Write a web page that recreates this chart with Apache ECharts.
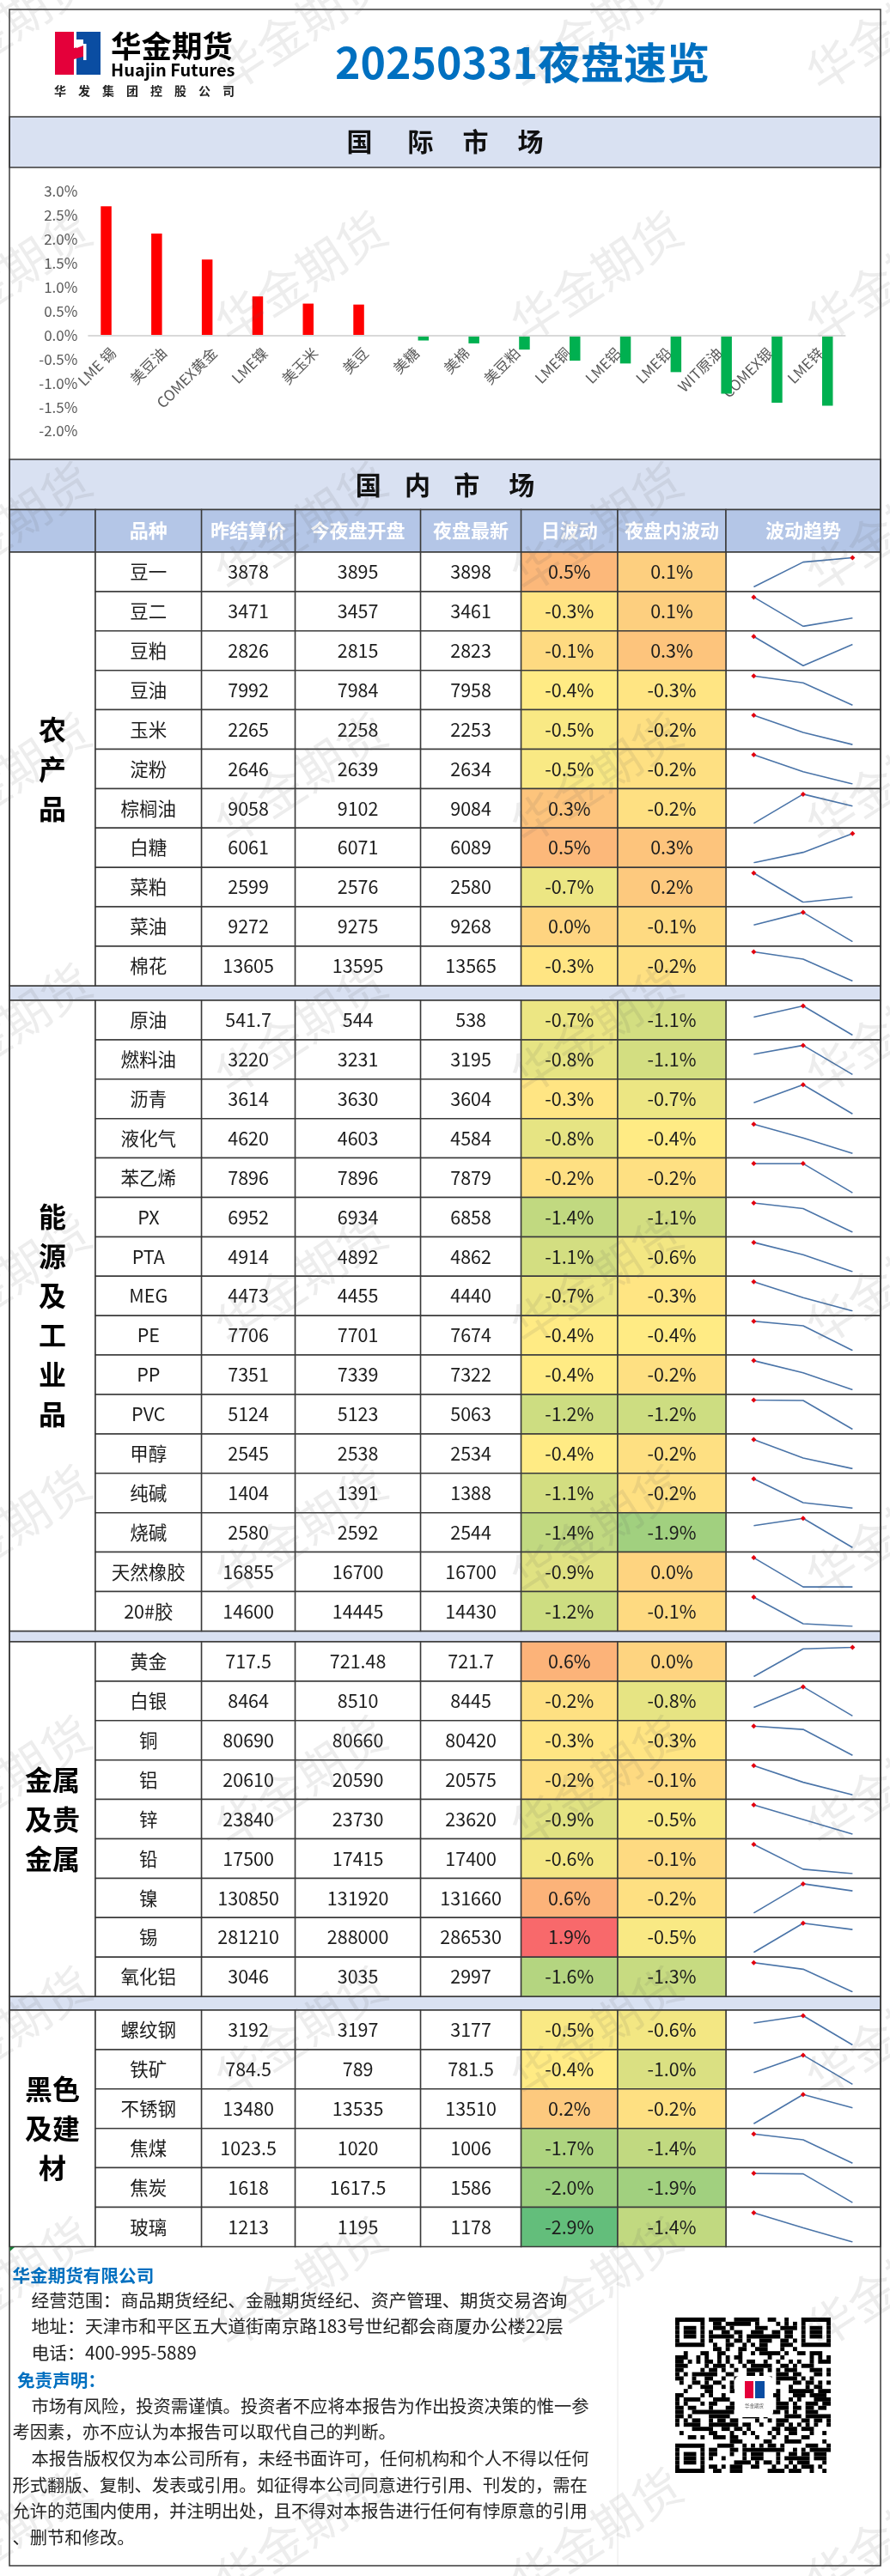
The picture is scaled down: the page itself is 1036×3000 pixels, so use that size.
<!DOCTYPE html>
<html>
<head>
<meta charset="utf-8">
<title>20250331夜盘速览</title>
<script src="https://cdn.jsdelivr.net/npm/echarts@6/dist/echarts.min.js"></script>
<style>
html, body { margin: 0; padding: 0; background: #fff; }
#main { width: 1036px; height: 3000px; }
</style>
</head>
<body>
<div id="main"></div>
<script>
// 国际市场
var intlNames = ['LME 锡', '美豆油', 'COMEX黄金', 'LME镍', '美玉米', '美豆', '美糖', '美棉', '美豆粕', 'LME铜', 'LME铝', 'LME铅', 'WIT原油', 'COMEX银', 'LME锌'];
var intlUp = [2.69, 2.12, 1.58, 0.81, 0.66, 0.64, null, null, null, null, null, null, null, null, null];
var intlDown = [null, null, null, null, null, null, -0.11, -0.17, -0.30, -0.53, -0.59, -0.77, -1.22, -1.41, -1.47];

// 国内市场
var sectionNames = ['农\n产\n品', '能\n源\n及\n工\n业\n品', '金属\n及贵\n金属', '黑色\n及建\n材'];
var sectionSizes = [11, 16, 9, 6];
var varieties = ['豆一', '豆二', '豆粕', '豆油', '玉米', '淀粉', '棕榈油', '白糖', '菜粕', '菜油', '棉花',
  '原油', '燃料油', '沥青', '液化气', '苯乙烯', 'PX', 'PTA', 'MEG', 'PE', 'PP', 'PVC', '甲醇', '纯碱', '烧碱', '天然橡胶', '20#胶',
  '黄金', '白银', '铜', '铝', '锌', '铅', '镍', '锡', '氧化铝',
  '螺纹钢', '铁矿', '不锈钢', '焦煤', '焦炭', '玻璃'];
var prevSettle = [3878, 3471, 2826, 7992, 2265, 2646, 9058, 6061, 2599, 9272, 13605,
  541.7, 3220, 3614, 4620, 7896, 6952, 4914, 4473, 7706, 7351, 5124, 2545, 1404, 2580, 16855, 14600,
  717.5, 8464, 80690, 20610, 23840, 17500, 130850, 281210, 3046,
  3192, 784.5, 13480, 1023.5, 1618, 1213];
var nightOpen = [3895, 3457, 2815, 7984, 2258, 2639, 9102, 6071, 2576, 9275, 13595,
  544, 3231, 3630, 4603, 7896, 6934, 4892, 4455, 7701, 7339, 5123, 2538, 1391, 2592, 16700, 14445,
  721.48, 8510, 80660, 20590, 23730, 17415, 131920, 288000, 3035,
  3197, 789, 13535, 1020, 1617.5, 1195];
var nightLast = [3898, 3461, 2823, 7958, 2253, 2634, 9084, 6089, 2580, 9268, 13565,
  538, 3195, 3604, 4584, 7879, 6858, 4862, 4440, 7674, 7322, 5063, 2534, 1388, 2544, 16700, 14430,
  721.7, 8445, 80420, 20575, 23620, 17400, 131660, 286530, 2997,
  3177, 781.5, 13510, 1006, 1586, 1178];
var dayChange = [0.5, -0.3, -0.1, -0.4, -0.5, -0.5, 0.3, 0.5, -0.7, 0.0, -0.3,
  -0.7, -0.8, -0.3, -0.8, -0.2, -1.4, -1.1, -0.7, -0.4, -0.4, -1.2, -0.4, -1.1, -1.4, -0.9, -1.2,
  0.6, -0.2, -0.3, -0.2, -0.9, -0.6, 0.6, 1.9, -1.6,
  -0.5, -0.4, 0.2, -1.7, -2.0, -2.9];
var nightChange = [0.1, 0.1, 0.3, -0.3, -0.2, -0.2, -0.2, 0.3, 0.2, -0.1, -0.2,
  -1.1, -1.1, -0.7, -0.4, -0.2, -1.1, -0.6, -0.3, -0.4, -0.2, -1.2, -0.2, -0.2, -1.9, 0.0, -0.1,
  0.0, -0.8, -0.3, -0.1, -0.5, -0.1, -0.2, -0.5, -1.3,
  -0.6, -1.0, -0.2, -1.4, -1.9, -1.4];
var columnTitles = ['品种', '昨结算价', '今夜盘开盘', '夜盘最新', '日波动', '夜盘内波动', '波动趋势'];
var trendSteps = ['昨结算', '开盘', '最新'];

var footerLines = [
  '经营范围：商品期货经纪、金融期货经纪、资产管理、期货交易咨询',
  '地址：天津市和平区五大道街南京路183号世纪都会商厦办公楼22层',
  '电话：400-995-5889'
];
var disclaimerLines = [
  '市场有风险，投资需谨慎。投资者不应将本报告为作出投资决策的惟一参',
  '考因素，亦不应认为本报告可以取代自己的判断。',
  '本报告版权仅为本公司所有，未经书面许可，任何机构和个人不得以任何',
  '形式翻版、复制、发表或引用。如征得本公司同意进行引用、刊发的，需在',
  '允许的范围内使用，并注明出处，且不得对本报告进行任何有悖原意的引用',
  '、删节和修改。'
];

var FONT = '"Noto Sans CJK SC", "Noto Sans", sans-serif';
var LINE = '#3a3a3a';
var BAND = '#D9E1F2';
var HEAD = '#B4C6E7';
var BLUE = '#0070C0';
var ROW_H = 45.9;
var LEFT = 11, RIGHT = 1025;
// 表格列的分界
var colEdges = [111, 234.6, 343.6, 489.6, 606.6, 719, 845, 1025];
var sectionTops = [643, 1165, 1912, 2341];

var graphics = [];

function addRect(x, y, w, h, fill, stroke, z) {
  graphics.push({
    type: 'rect', z: z || 1, silent: true,
    shape: { x: x, y: y, width: w, height: h },
    style: { fill: fill, stroke: stroke || null, lineWidth: stroke ? 1.5 : 0 }
  });
}

function addText(text, x, y, size, color, bold, align, lineHeight) {
  graphics.push({
    type: 'text', z: 20, silent: true,
    style: {
      text: text, x: x, y: y, fill: color,
      font: (bold ? 'bold ' : '') + size + 'px ' + FONT,
      fontSize: size, fontFamily: FONT, fontWeight: bold ? 'bold' : 'normal',
      lineHeight: lineHeight,
      align: align || 'center', verticalAlign: 'middle',
      textAlign: align || 'center', textVerticalAlign: 'middle'
    }
  });
}

// 标题区、色带
addRect(LEFT, 136, RIGHT - LEFT, 59, BAND, LINE);
addRect(LEFT, 535, RIGHT - LEFT, 58.5, BAND, LINE);
addRect(LEFT, 1148, RIGHT - LEFT, 17, BAND, LINE);
addRect(LEFT, 1899.4, RIGHT - LEFT, 12.6, BAND, LINE);
addRect(LEFT, 2325.1, RIGHT - LEFT, 15.9, BAND, LINE);
addRect(LEFT, 11, RIGHT - LEFT, 2977, null, LINE, 30);
addText('国      际     市     场', 518, 165, 30, '#111', true);
addText('国    内    市     场', 518, 564.5, 30, '#111', true);
addText('20250331夜盘速览', 608, 73, 50, BLUE, true);

// logo
addRect(64, 37, 22, 50, '#E4003A');
addRect(89, 37, 28, 50, '#0A4DA2');
graphics.push({ type: 'polygon', z: 2, silent: true, shape: { points: [[86, 56], [97, 53], [97, 66], [86, 69]] }, style: { fill: '#E4003A' } });
graphics.push({ type: 'polygon', z: 2, silent: true, shape: { points: [[89, 46], [97, 46], [97, 53], [89, 56]] }, style: { fill: '#fff' } });
addRect(97, 51, 3.5, 19, '#fff', null, 3);
addText('华金期货', 129, 54, 35.5, '#000', true, 'left');
addText('Huajin Futures', 129, 81, 20, '#000', true, 'left');
addText('华　发　集　团　控　股　公　司', 63, 106, 14, '#222', true, 'left');

// 表头
addRect(LEFT, 593.5, colEdges[0] - LEFT, 49.5, HEAD, LINE);
columnTitles.forEach(function (title, i) {
  addRect(colEdges[i], 593.5, colEdges[i + 1] - colEdges[i], 49.5, HEAD, LINE);
  addText(title, (colEdges[i] + colEdges[i + 1]) / 2, 618, 22, '#fff', true);
});

// 左侧合并单元格
sectionNames.forEach(function (name, i) {
  var h = sectionSizes[i] * ROW_H;
  addRect(LEFT, sectionTops[i], colEdges[0] - LEFT, h, '#fff', LINE);
  addText(name, (LEFT + colEdges[0]) / 2, sectionTops[i] + h / 2, 32, '#000', true, 'center', 46);
});

// 底部
graphics.push({ type: 'line', z: 1, silent: true, shape: { x1: 719, y1: 2617, x2: 719, y2: 2988 }, style: { stroke: '#e8e8e8', lineWidth: 1 } });
graphics.push({ type: 'polygon', z: 31, silent: true, shape: { points: [[11.5, 2617], [17, 2617], [11.5, 2622]] }, style: { fill: '#1a7f37' } });
addText('华金期货有限公司', 14.5, 2650, 20.6, BLUE, true, 'left');
footerLines.forEach(function (t, i) { addText(t, 36.5, 2679 + i * 30.5, 20.8, '#222', false, 'left'); });
addText('免责声明：', 20, 2772, 20.6, BLUE, true, 'left');
disclaimerLines.forEach(function (t, i) {
  var indent = i === 0 || i === 2;
  addText(t, indent ? 36.5 : 14.5, 2802 + i * 30.6, 20.3, '#222', false, 'left');
});

// 二维码图案，只是装饰
(function () {
  var n = 37, size = 181 / n, x0 = 786, y0 = 2699, seed = 0x5A17;
  function finder(r, c, ox, oy) {
    var a = r - ox, b = c - oy;
    if (a < -1 || a > 7 || b < -1 || b > 7) return null;
    if (a < 0 || a > 6 || b < 0 || b > 6) return false;
    if (a === 0 || a === 6 || b === 0 || b === 6) return true;
    return a >= 2 && a <= 4 && b >= 2 && b <= 4;
  }
  for (var r = 0; r < n; r++) {
    var start = -1;
    for (var c = 0; c <= n; c++) {
      var on = false;
      if (c < n) {
        seed = ((seed >> 1) ^ (-(seed & 1) & 0xB400)) & 0xFFFF;
        var f = finder(r, c, 0, 0);
        if (f === null) f = finder(r, c, 0, n - 7);
        if (f === null) f = finder(r, c, n - 7, 0);
        on = f === null ? (seed & 3) < 2 : f;
      }
      if (on && start < 0) start = c;
      if (!on && start >= 0) {
        addRect(x0 + start * size, y0 + r * size, (c - start) * size, size, '#000', null, 4);
        start = -1;
      }
    }
  }
  graphics.push({ type: 'rect', z: 5, silent: true, shape: { x: 855, y: 2767, width: 45, height: 48, r: 6 }, style: { fill: '#fff' } });
  addRect(867, 2773, 10, 20, '#E4003A', null, 6);
  addRect(879, 2773, 11, 20, '#0A4DA2', null, 6);
  addText('华金期货', 878, 2802, 5.5, '#555', false);
})();

// 水印
[6, 350, 694, 1038].forEach(function (x) {
  for (var k = 0; k < 11; k++) {
    graphics.push({
      type: 'text', z: 100, silent: true, x: x, y: 30 + k * 292,
      rotation: 33 * Math.PI / 180,
      style: {
        text: '华金期货', fill: 'rgba(90,90,90,0.11)', font: '56px ' + FONT,
        fontSize: 56, fontFamily: FONT,
        align: 'center', verticalAlign: 'middle', textAlign: 'center', textVerticalAlign: 'middle'
      }
    });
  }
});

var grids = [], xAxes = [], yAxes = [], seriesList = [];

// 柱状图，类目标签贴在零轴下方，零轴用markLine画
grids.push({ left: 102.4, top: 223, width: 882, height: 279, outerBoundsMode: 'none' });
xAxes.push({
  type: 'category', gridIndex: 0, data: intlNames,
  axisTick: { show: false },
  axisLine: { show: false },
  axisLabel: { interval: 0, rotate: 45, margin: -94, color: '#595959', fontSize: 17, fontFamily: FONT }
});
yAxes.push({
  type: 'value', gridIndex: 0, min: -2, max: 3, interval: 0.5,
  axisLine: { show: false }, axisTick: { show: false }, splitLine: { show: false },
  axisLabel: {
    margin: 12, color: '#595959', fontSize: 17, fontFamily: FONT,
    formatter: function (v) { return v.toFixed(1) + '%'; }
  }
});
seriesList.push({
  type: 'bar', xAxisIndex: 0, yAxisIndex: 0, data: intlUp, barWidth: 12.5, barGap: '32%', itemStyle: { color: '#FF0000' }, z: 3,
  markLine: {
    silent: true, symbol: 'none', label: { show: false },
    lineStyle: { color: '#D9D9D9', width: 2, type: 'solid' },
    data: [{ yAxis: 0 }]
  }
});
seriesList.push({ type: 'bar', xAxisIndex: 0, yAxisIndex: 0, data: intlDown, barWidth: 12.5, itemStyle: { color: '#00B050' }, z: 3 });

function cellBox(col, api) {
  var yc = api.coord([0, api.value(1)])[1];
  var h = api.size([0, 1])[1];
  return { x: colEdges[col], y: yc - h / 2, width: colEdges[col + 1] - colEdges[col], height: h };
}

function cellText(text, box) {
  return {
    type: 'text', z2: 10,
    style: {
      text: text, x: box.x + box.width / 2, y: box.y + box.height / 2, fill: '#1c1c1c',
      font: '21.5px ' + FONT, fontSize: 21.5, fontFamily: FONT,
      align: 'center', verticalAlign: 'middle', textAlign: 'center', textVerticalAlign: 'middle'
    }
  };
}

// 每个板块一个grid，x轴按像素，y轴按品种
var heatIndexes = [];
var offset = 0;
sectionSizes.forEach(function (size, s) {
  var g = grids.length;
  var names = varieties.slice(offset, offset + size);
  grids.push({ left: 0, top: sectionTops[s], width: 1036, height: size * ROW_H, outerBoundsMode: 'none' });
  xAxes.push({ type: 'value', gridIndex: g, min: 0, max: 1036, show: false });
  yAxes.push({ type: 'category', gridIndex: g, data: names, inverse: true, show: false });

  var plainData = [], plainTexts = [], heatData = [];
  names.forEach(function (name, r) {
    var i = offset + r;
    [name, prevSettle[i], nightOpen[i], nightLast[i]].forEach(function (v, c) {
      plainData.push([c, r]);
      plainTexts.push(String(v));
    });
    plainData.push([6, r]);
    plainTexts.push('');
    heatData.push([4, r, dayChange[i]]);
    heatData.push([5, r, nightChange[i]]);
  });

  seriesList.push({
    type: 'custom', xAxisIndex: g, yAxisIndex: g, data: plainData, silent: true, clip: false, z: 2,
    encode: { x: 0, y: 1 },
    renderItem: function (params, api) {
      var box = cellBox(api.value(0), api);
      return {
        type: 'group',
        children: [
          { type: 'rect', shape: box, style: { fill: '#fff', stroke: LINE, lineWidth: 1.5 } },
          cellText(plainTexts[params.dataIndex], box)
        ]
      };
    }
  });
  heatIndexes.push(seriesList.length);
  seriesList.push({
    type: 'custom', xAxisIndex: g, yAxisIndex: g, data: heatData, silent: true, clip: false, z: 2,
    encode: { x: 0, y: 1 },
    renderItem: function (params, api) {
      var box = cellBox(api.value(0), api);
      return {
        type: 'group',
        children: [
          { type: 'rect', shape: box, style: { fill: api.visual('color'), stroke: LINE, lineWidth: 1.5 } },
          cellText(api.value(2).toFixed(1) + '%', box)
        ]
      };
    }
  });

  // 波动趋势
  names.forEach(function (name, r) {
    var i = offset + r;
    var line = [prevSettle[i], nightOpen[i], nightLast[i]];
    var high = Math.max.apply(null, line);
    var k = grids.length;
    grids.push({ left: 877.4, width: 115, top: sectionTops[s] + r * ROW_H + 6.5, height: 34, outerBoundsMode: 'none' });
    xAxes.push({ type: 'category', gridIndex: k, data: trendSteps, boundaryGap: false, show: false });
    yAxes.push({ type: 'value', gridIndex: k, min: 'dataMin', max: 'dataMax', show: false });
    seriesList.push({
      type: 'line', xAxisIndex: k, yAxisIndex: k, data: line, silent: true, z: 6,
      showAllSymbol: true, symbol: 'diamond',
      symbolSize: function (v) { return v === high ? 6 : 0; },
      lineStyle: { color: '#4A74A8', width: 1.6 },
      itemStyle: { color: '#E3000F' }
    });
  });
  offset += size;
});

var chart = echarts.init(document.getElementById('main'), null, { renderer: 'canvas' });
chart.setOption({
  animation: false,
  backgroundColor: '#fff',
  textStyle: { fontFamily: FONT },
  tooltip: { show: false },
  // 日波动和夜盘内波动共用一个三色刻度
  visualMap: {
    show: false, seriesIndex: heatIndexes, dimension: 2,
    min: -2.9, max: 2.1,
    inRange: { color: ['#63BE7B', '#FFEB84', '#F75E69'] }
  },
  grid: grids,
  xAxis: xAxes,
  yAxis: yAxes,
  series: seriesList,
  graphic: { elements: graphics }
});
</script>
</body>
</html>
